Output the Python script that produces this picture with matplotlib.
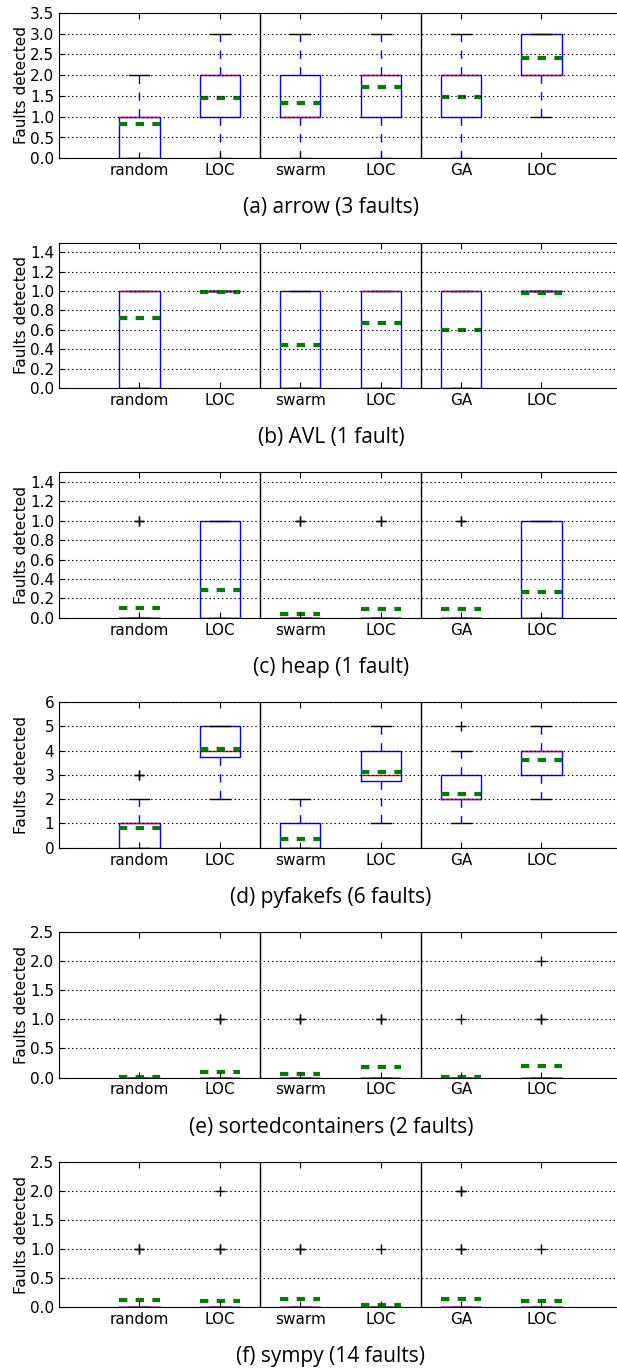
import numpy as np
import matplotlib.pyplot as plt

# classic-ish look
plt.rcParams['xtick.direction'] = 'in'
plt.rcParams['ytick.direction'] = 'in'
plt.rcParams['xtick.top'] = True
plt.rcParams['ytick.right'] = True
plt.rcParams['lines.scale_dashes'] = False
plt.rcParams['lines.dashed_pattern'] = (6, 6)
plt.rcParams['lines.dotted_pattern'] = (1, 2)
plt.rcParams['font.size'] = 11

labels = ['random', 'LOC', 'swarm', 'LOC', 'GA', 'LOC']

# —— (a) arrow
arrow_q1 = [0, 1, 1, 1, 1, 2]
arrow_med = [1, 2, 1, 2, 2, 2]
arrow_q3 = [1, 2, 2, 2, 2, 3]
arrow_lo = [0, 0, 0, 0, 0, 1]
arrow_hi = [2, 3, 3, 3, 3, 3]
arrow_mean = [0.82, 1.46, 1.33, 1.71, 1.48, 2.42]
arrow_fliers = [[], [], [], [], [], []]

# —— (b) AVL
avl_q1 = [0, 1, 0, 0, 0, 1]
avl_med = [1, 1, 0, 1, 1, 1]
avl_q3 = [1, 1, 1, 1, 1, 1]
avl_lo = [0, 1, 0, 0, 0, 1]
avl_hi = [1, 1, 1, 1, 1, 1]
avl_mean = [0.72, 0.99, 0.44, 0.67, 0.60, 0.98]
avl_fliers = [[], [], [], [], [], []]

# —— (c) heap
heap_q1 = [0, 0, 0, 0, 0, 0]
heap_med = [0, 0, 0, 0, 0, 0]
heap_q3 = [0, 1, 0, 0, 0, 1]
heap_lo = [0, 0, 0, 0, 0, 0]
heap_hi = [0, 1, 0, 0, 0, 1]
heap_mean = [0.10, 0.29, 0.04, 0.09, 0.09, 0.27]
heap_fliers = [[1, 1], [], [1, 1], [1, 1], [1, 1], []]

# —— (d) pyfakefs
pyf_q1 = [0, 3.75, 0, 2.75, 2, 3]
pyf_med = [1, 4, 0, 3, 2, 4]
pyf_q3 = [1, 5, 1, 4, 3, 4]
pyf_lo = [0, 2, 0, 1, 1, 2]
pyf_hi = [2, 5, 2, 5, 4, 5]
pyf_mean = [0.80, 4.07, 0.35, 3.13, 2.20, 3.60]
pyf_fliers = [[3, 3], [], [], [], [5], []]

# —— (e) sortedcontainers
sc_q1 = [0, 0, 0, 0, 0, 0]
sc_med = [0, 0, 0, 0, 0, 0]
sc_q3 = [0, 0, 0, 0, 0, 0]
sc_lo = [0, 0, 0, 0, 0, 0]
sc_hi = [0, 0, 0, 0, 0, 0]
sc_mean = [0.01, 0.10, 0.06, 0.18, 0.01, 0.20]
sc_fliers = [[], [1, 1], [1, 1], [1, 1], [1], [1, 1, 2]]

# —— (f) sympy
sy_q1 = [0, 0, 0, 0, 0, 0]
sy_med = [0, 0, 0, 0, 0, 0]
sy_q3 = [0, 0, 0, 0, 0, 0]
sy_lo = [0, 0, 0, 0, 0, 0]
sy_hi = [0, 0, 0, 0, 0, 0]
sy_mean = [0.13, 0.11, 0.14, 0.04, 0.15, 0.10]
sy_fliers = [[1, 1], [1, 1, 2], [1, 1], [1], [1, 1, 2, 2], [1]]

panels = [
    ('(a) arrow (3 faults)', arrow_q1, arrow_med, arrow_q3, arrow_lo, arrow_hi, arrow_mean, arrow_fliers,
     (0, 3.5), np.arange(0, 3.51, 0.5)),
    ('(b) AVL (1 fault)', avl_q1, avl_med, avl_q3, avl_lo, avl_hi, avl_mean, avl_fliers,
     (0, 1.5), np.arange(0, 1.41, 0.2)),
    ('(c) heap (1 fault)', heap_q1, heap_med, heap_q3, heap_lo, heap_hi, heap_mean, heap_fliers,
     (0, 1.5), np.arange(0, 1.41, 0.2)),
    ('(d) pyfakefs (6 faults)', pyf_q1, pyf_med, pyf_q3, pyf_lo, pyf_hi, pyf_mean, pyf_fliers,
     (0, 6), np.arange(0, 7, 1)),
    ('(e) sortedcontainers (2 faults)', sc_q1, sc_med, sc_q3, sc_lo, sc_hi, sc_mean, sc_fliers,
     (0, 2.5), np.arange(0, 2.51, 0.5)),
    ('(f) sympy (14 faults)', sy_q1, sy_med, sy_q3, sy_lo, sy_hi, sy_mean, sy_fliers,
     (0, 2.5), np.arange(0, 2.51, 0.5)),
]

W, H = 617, 1370
fig = plt.figure(figsize=(W / 100, H / 100), dpi=100)

left_px, right_px = 59, 632
unit = 80.4  # pixels per box slot
for i, (cap, q1, med, q3, lo, hi, mean, fl, ylim, yt) in enumerate(panels):
    top = 12.7 + 229.8 * i
    bot = top + 145.6
    ax = fig.add_axes([left_px / W, 1 - bot / H, (right_px - left_px) / W, (bot - top) / H])

    stats = []
    for k in range(len(labels)):
        stats.append(dict(label=labels[k], q1=q1[k], med=med[k], q3=q3[k],
                          whislo=lo[k], whishi=hi[k], mean=mean[k], fliers=fl[k]))
    ax.bxp(stats, showmeans=True, meanline=True,
           boxprops=dict(color='b', linewidth=1),
           whiskerprops=dict(color='b', linestyle='--', linewidth=1),
           capprops=dict(color='k', linewidth=1),
           medianprops=dict(color='r', linewidth=1),
           meanprops=dict(color='g', linestyle='--', linewidth=3),
           flierprops=dict(marker='+', markeredgecolor='k', markersize=7,
                           markeredgewidth=1, linestyle='none'))

    ax.axvline(2.5, color='k', linewidth=1)
    ax.axvline(4.5, color='k', linewidth=1)
    ax.set_xlim(0, (right_px - left_px) / unit)
    ax.set_ylim(*ylim)
    ax.set_yticks(yt)
    ax.yaxis.grid(True, linestyle=':', color='k', linewidth=0.8)
    ax.set_axisbelow(False)
    ax.tick_params(length=4, width=0.8)
    ax.set_ylabel('Faults detected', va='center')
    ax.yaxis.set_label_coords((21.6 - left_px) / (right_px - left_px), 0.5)

    fig.text(331 / W, 1 - (bot + 55) / H, cap, ha='center', va='baseline',
             fontsize=15, family=['Open Sans', 'DejaVu Sans'])

fig.savefig('out.png', dpi=100)
